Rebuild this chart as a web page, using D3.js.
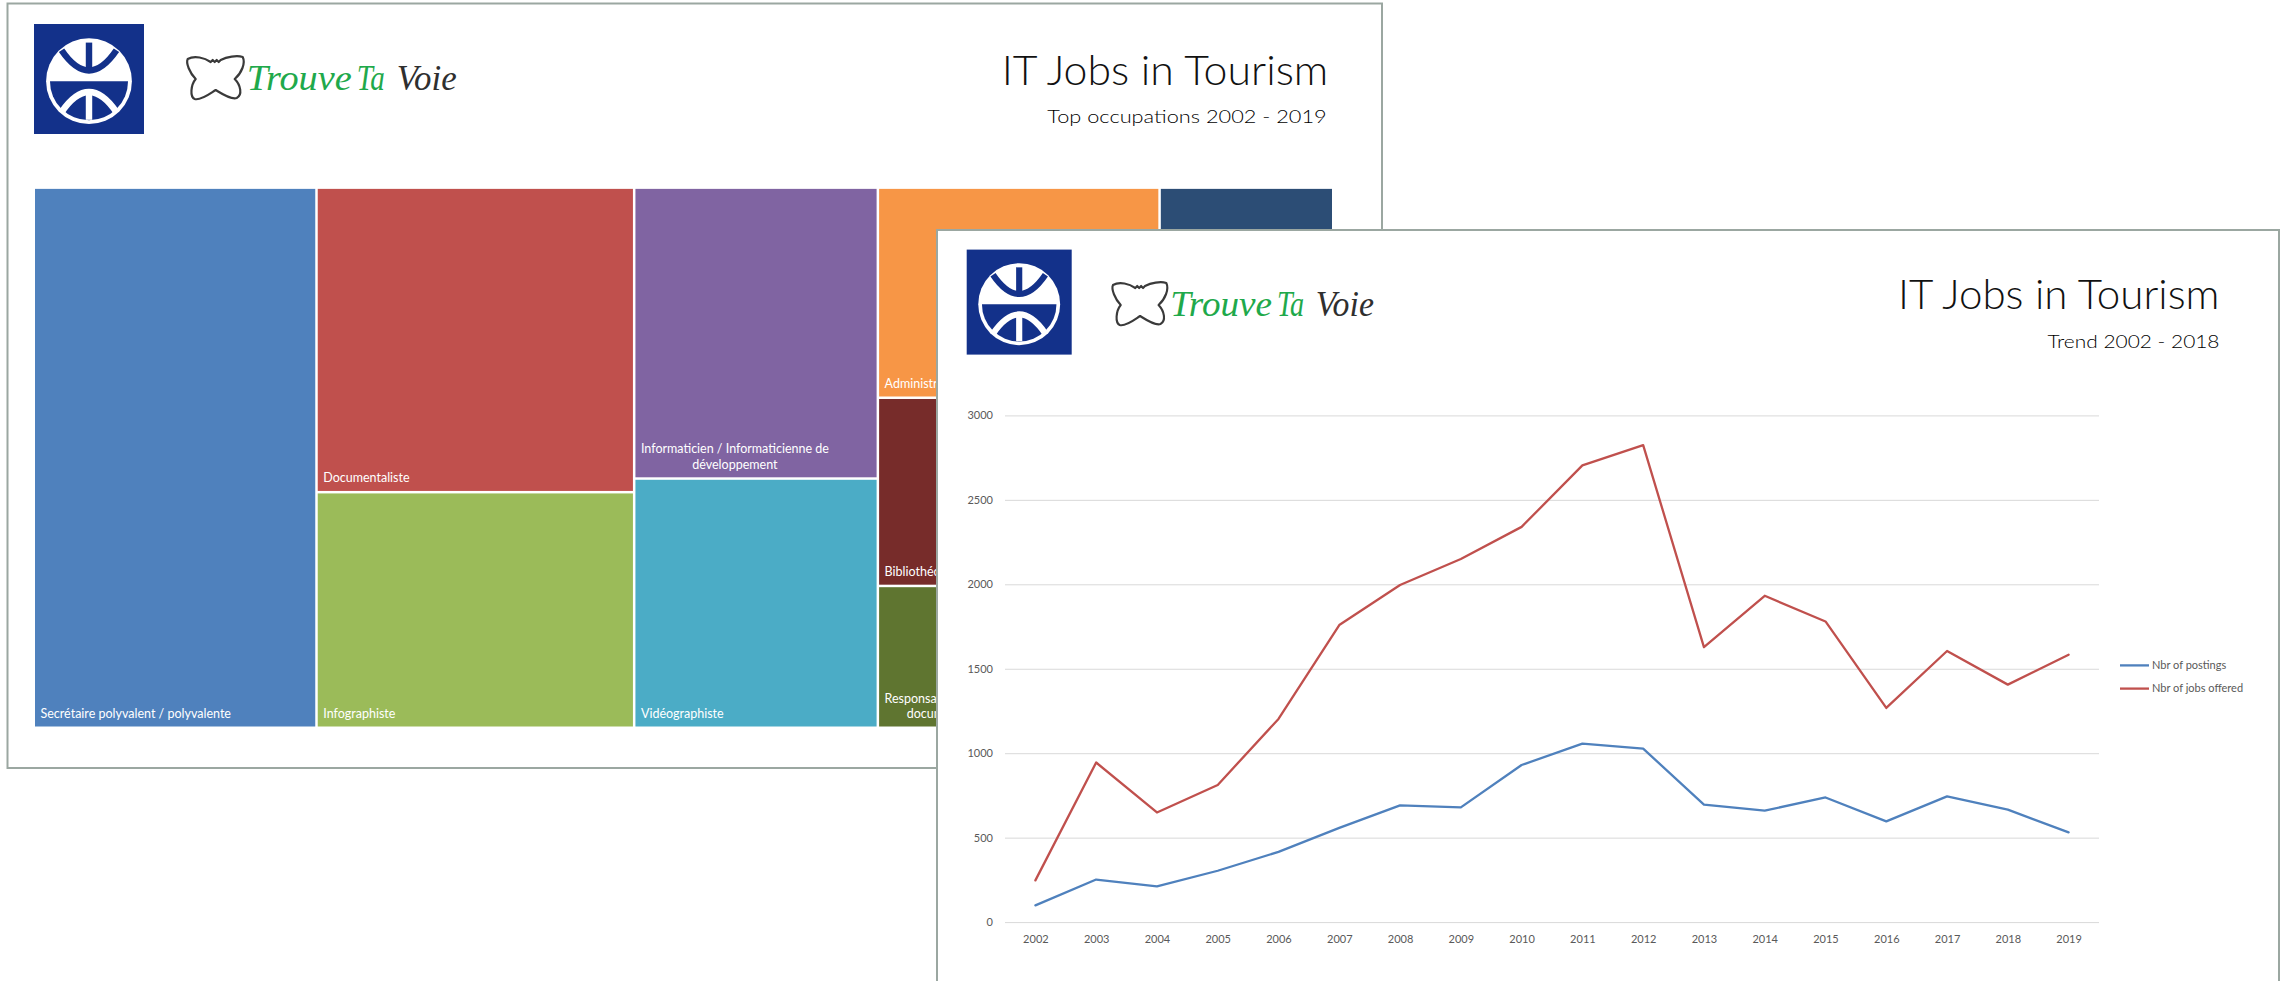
<!DOCTYPE html>
<html><head><meta charset="utf-8">
<script src="https://cdn.jsdelivr.net/npm/d3@7"></script>
<style>html,body{margin:0;padding:0;background:#fff;overflow:hidden}svg{display:block}</style>
</head><body>
<svg id="c" width="2285" height="981"></svg>
<script>
// ---------- data: line chart ----------
const years = [2002, 2003, 2004, 2005, 2006, 2007, 2008, 2009, 2010, 2011, 2012, 2013, 2014, 2015, 2016, 2017, 2018, 2019];
const postings = [99, 252, 211, 304, 416, 558, 691, 679, 930, 1057, 1027, 696, 660, 738, 596, 744, 666, 531];
const jobsOffered = [247, 945, 649, 812, 1203, 1759, 1996, 2150, 2340, 2704, 2824, 1628, 1932, 1780, 1268, 1605, 1406, 1583];
const yTicks = [0, 500, 1000, 1500, 2000, 2500, 3000];
const seriesNames = ["Nbr of postings", "Nbr of jobs offered"];
const seriesColors = ["#4f81bd", "#c0504d"];

// ---------- data: treemap ----------
const occupations = [
  "Secrétaire polyvalent / polyvalente",
  "Documentaliste",
  "Infographiste",
  "Informaticien / Informaticienne de\ndéveloppement",
  "Vidéographiste",
  "Administrateur / Administratrice réseau",
  "Webmaster",
  "Bibliothécaire",
  "Responsable du service\ndocumentation"
];
const occValues = [1505, 954, 737, 699, 598, 584, 360, 844, 636];
const occColumn = [0, 1, 1, 2, 2, 3, 3, 3, 3];
const occRow    = [0, 0, 1, 0, 1, 0, 0, 1, 2];
const occColors = ["#4f81bd", "#c0504d", "#9bbb59", "#8064a2", "#4bacc6", "#f79646", "#2c4d75", "#772c2a", "#5f7530"];

const svg = d3.select("#c");
svg.append("rect").attr("width", 2285).attr("height", 981).attr("fill", "#fff");
const defs = svg.append("defs");
defs.append("clipPath").attr("id", "p1clip").append("path")
  .attr("d", "M0,0H2285V981H0Z M937,230H2285V981H937Z").attr("clip-rule", "evenodd");

const BORDER = "#9ba7a1";
const LOGO_BLUE = "#13318a";

function drawLogo(g, x, y, S) {
  const cx = x + S * 0.5, cy = y + S * 0.52, r = S * 0.39, ri = r * 0.91, sw = r * 0.15;
  g.append("rect").attr("x", x).attr("y", y).attr("width", S).attr("height", S).attr("fill", LOGO_BLUE);
  g.append("circle").attr("cx", cx).attr("cy", cy).attr("r", r).attr("fill", "#fff");
  g.append("path").attr("d", `M${cx - ri},${cy} A${ri},${ri} 0 0 0 ${cx + ri},${cy} Z`).attr("fill", LOGO_BLUE);
  g.append("line").attr("x1", cx).attr("x2", cx).attr("y1", cy - 0.9 * r).attr("y2", cy - 0.25 * r)
    .attr("stroke", LOGO_BLUE).attr("stroke-width", sw);
  g.append("path").attr("d", `M${cx - 0.64 * r},${cy - 0.72 * r} Q${cx},${cy + 0.22 * r} ${cx + 0.64 * r},${cy - 0.72 * r}`)
    .attr("fill", "none").attr("stroke", LOGO_BLUE).attr("stroke-width", sw);
  g.append("line").attr("x1", cx).attr("x2", cx).attr("y1", cy + 0.25 * r).attr("y2", cy + 0.9 * r)
    .attr("stroke", "#fff").attr("stroke-width", sw);
  g.append("path").attr("d", `M${cx - 0.64 * r},${cy + 0.72 * r} Q${cx},${cy - 0.22 * r} ${cx + 0.64 * r},${cy + 0.72 * r}`)
    .attr("fill", "none").attr("stroke", "#fff").attr("stroke-width", sw);
}

function drawBrand(g, transform) {
  const b = g.append("g").attr("transform", transform);
  b.append("path")
    .attr("d", "M1,4 C8,0 18,3 24,7 l2,-2 l2,2 l2,-2 l2,2 l2,-2 C40,2 50,0 56,2 C59,8 55,18 48,24 C54,30 56,40 50,43 C44,45 34,38 29,35 C24,38 14,46 8,44 C3,42 4,30 9,24 C3,18 -1,8 1,4 Z")
    .attr("fill", "none").attr("stroke", "#3a3a3a").attr("stroke-width", 2.2).attr("stroke-linejoin", "round");
  const parts = [["Trouve", 60, 105, "#1fa94b"], ["Ta", 170, 28, "#1fa94b"], ["Voie", 210, 60, "#2f2f2f"]];
  parts.forEach(p => {
    b.append("text").attr("x", p[1]).attr("y", 35).text(p[0])
      .attr("font-family", "'Liberation Serif', serif").attr("font-style", "italic")
      .attr("font-size", 36).attr("fill", p[3])
      .attr("textLength", p[2]).attr("lengthAdjust", "spacingAndGlyphs");
  });
}

function title(g, right, baseline, size, txt, width, weight, color) {
  g.append("text").attr("x", right - width).attr("y", baseline).text(txt)
    .attr("font-family", "Lato, 'Open Sans', sans-serif").attr("font-weight", weight)
    .attr("font-size", size).attr("fill", color)
    .attr("textLength", width).attr("lengthAdjust", "spacingAndGlyphs");
}

// ================= PANEL 1 (treemap) =================
const p1 = svg.append("g");
p1.append("rect").attr("x", 7.5).attr("y", 3.5).attr("width", 1374.5).attr("height", 764.5)
  .attr("fill", "#fff").attr("stroke", BORDER).attr("stroke-width", 2);
drawLogo(p1, 34, 24, 110);
drawBrand(p1, "translate(186.7,55)");
title(p1, 1328.3, 85, 42, "IT Jobs in Tourism", 326.6, 300, "#111");
title(p1, 1326.7, 123.3, 18, "Top occupations 2002 - 2019", 279.4, 300, "#000");

const idx = occupations.map((_, i) => i);
const treeData = {
  children: d3.groups(idx, i => occColumn[i]).map(([c, cIds]) => ({
    children: d3.groups(cIds, i => occRow[i]).map(([r, rIds]) => ({
      children: rIds.map(i => ({ name: occupations[i], value: occValues[i], color: occColors[i] }))
    }))
  }))
};
const root = d3.hierarchy(treeData).sum(d => d.value || 0);
d3.treemap().size([1297, 538]).paddingInner(2.5)
  .tile((node, x0, y0, x1, y1) => (node.depth % 2 === 0 ? d3.treemapDice : d3.treemapSlice)(node, x0, y0, x1, y1))(root);

const tm = p1.append("g").attr("transform", "translate(35,188.5)").attr("clip-path", "url(#p1clip)");
const leaves = tm.selectAll("g.leaf").data(root.leaves()).join("g").attr("class", "leaf");
leaves.append("rect")
  .attr("x", d => d.x0).attr("y", d => d.y0)
  .attr("width", d => d.x1 - d.x0).attr("height", d => d.y1 - d.y0)
  .attr("fill", d => d.data.color);
leaves.each(function (d) {
  const g = d3.select(this);
  const lines = d.data.name.split("\n");
  const t = g.append("text").attr("font-family", "Lato, 'Open Sans', sans-serif").attr("font-size", 12.5)
    .attr("fill", "#fff").attr("text-anchor", "middle");
  const spans = lines.map((ln, k) => t.append("tspan").text(ln));
  const widths = spans.map(s => s.node().getComputedTextLength());
  const bw = Math.max(...widths);
  spans.forEach((s, k) => {
    s.attr("x", d.x0 + 5.5 + bw / 2).attr("y", d.y1 - 8.5 - (lines.length - 1 - k) * 15.5);
  });
});

// ================= PANEL 2 (line chart) =================
const p2 = svg.append("g");
p2.append("rect").attr("x", 937).attr("y", 230).attr("width", 1342).attr("height", 800)
  .attr("fill", "#fff").attr("stroke", BORDER).attr("stroke-width", 2);
drawLogo(p2, 966.7, 249.6, 105);
drawBrand(p2, "translate(1112,281) scale(0.97,1)");
title(p2, 2219.5, 309.3, 41, "IT Jobs in Tourism", 321.5, 300, "#111");
title(p2, 2219.5, 347.7, 18, "Trend 2002 - 2018", 172, 300, "#000");

const x = d3.scalePoint().domain(years).range([1005, 2099]).padding(0.5);
const y = d3.scaleLinear().domain([0, 3000]).range([922.1, 415.4]);

const yAxis = p2.append("g").attr("transform", "translate(1005,0)")
  .call(d3.axisLeft(y).tickValues(yTicks).tickSize(-(2099 - 1005)).tickPadding(12).tickFormat(d3.format("d")));
yAxis.select(".domain").remove();
yAxis.selectAll(".tick line").attr("stroke", "#d9d9d9").attr("stroke-width", 1);
yAxis.selectAll(".tick text").attr("font-family", "Lato, 'Open Sans', sans-serif").attr("font-size", 11).attr("fill", "#595959");

const xAxis = p2.append("g").attr("transform", "translate(0,922.1)")
  .call(d3.axisBottom(x).tickSize(0).tickPadding(13).tickFormat(d3.format("d")));
xAxis.select(".domain").remove();
xAxis.selectAll(".tick text").attr("font-family", "Lato, 'Open Sans', sans-serif").attr("font-size", 11).attr("fill", "#595959");

const line = d3.line().x((d, i) => x(years[i])).y(d => y(d));
[postings, jobsOffered].forEach((s, k) => {
  p2.append("path").datum(s).attr("d", line).attr("fill", "none")
    .attr("stroke", seriesColors[k]).attr("stroke-width", 2.3)
    .attr("stroke-linejoin", "round").attr("stroke-linecap", "round");
});

const legY = [665.4, 688.6];
seriesNames.forEach((n, k) => {
  p2.append("line").attr("x1", 2120).attr("x2", 2149).attr("y1", legY[k]).attr("y2", legY[k])
    .attr("stroke", seriesColors[k]).attr("stroke-width", 2.3);
  p2.append("text").attr("x", 2152).attr("y", legY[k]).attr("dy", "0.35em").text(n)
    .attr("font-family", "Lato, 'Open Sans', sans-serif").attr("font-size", 11).attr("fill", "#595959");
});
</script>
</body></html>
